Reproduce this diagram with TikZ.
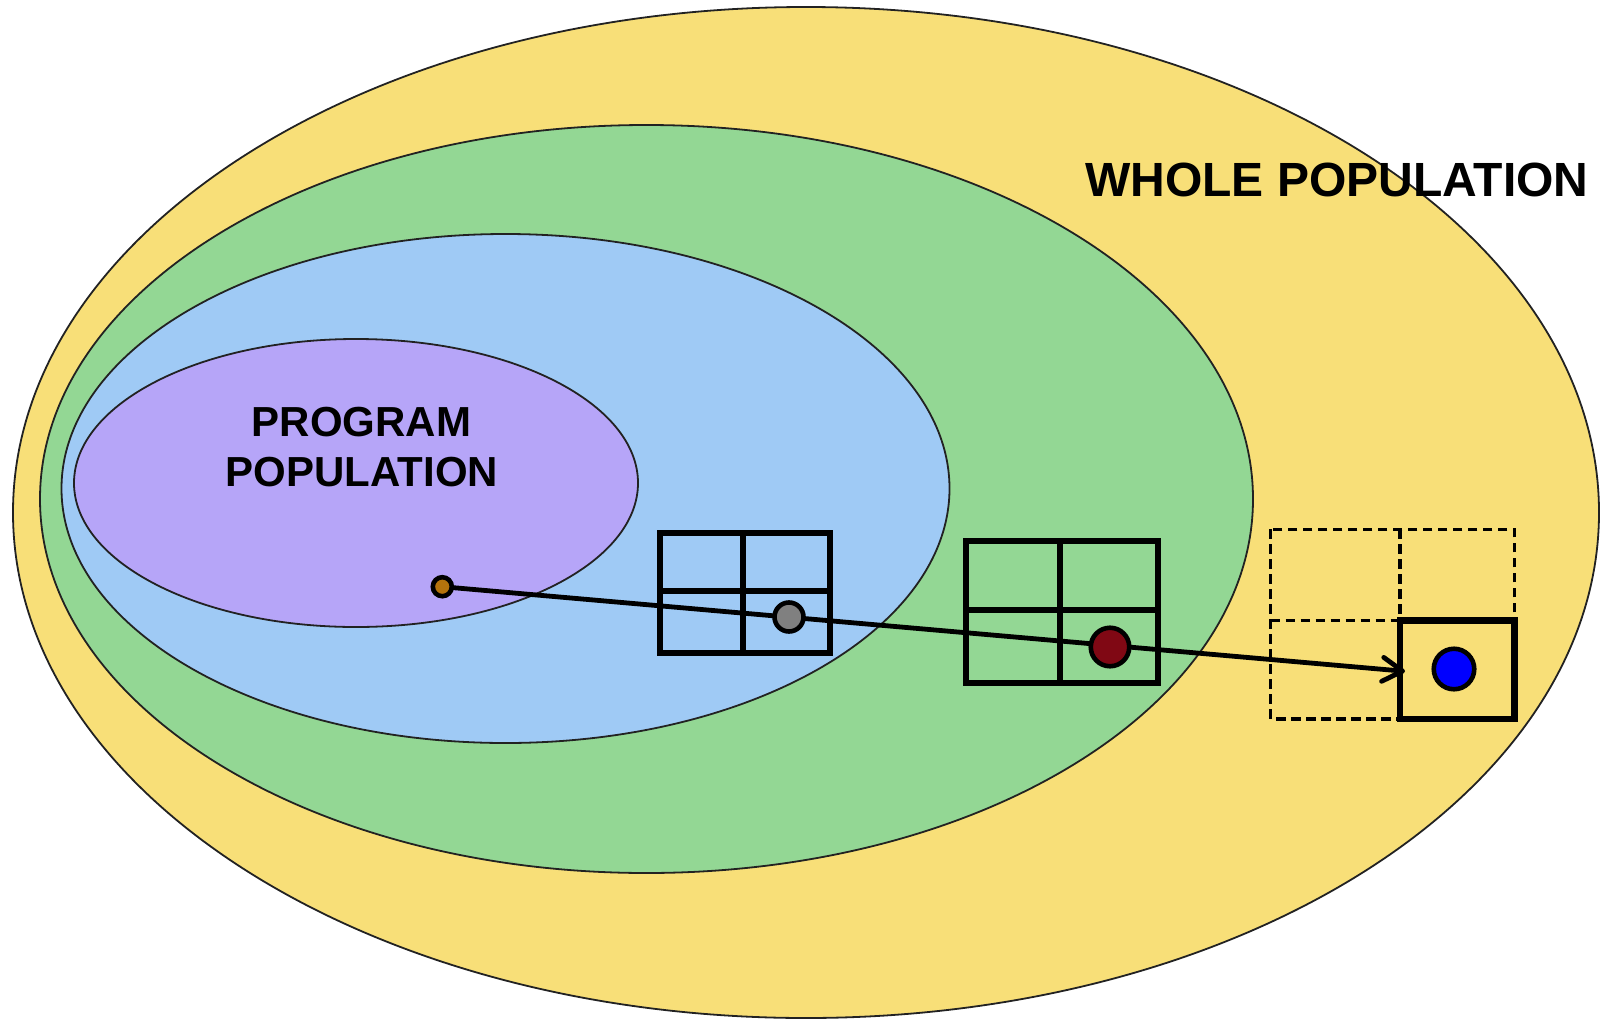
\documentclass[tikz,border=0pt]{standalone}
\usepackage{fontspec}
\setmainfont{Liberation Sans}
\usetikzlibrary{arrows.meta}
\definecolor{popyellow}{RGB}{248,223,120}
\definecolor{popgreen}{RGB}{147,215,148}
\definecolor{popblue}{RGB}{159,202,245}
\definecolor{poppurple}{RGB}{182,165,248}
\definecolor{rim}{RGB}{34,34,34}
\definecolor{dotbrown}{RGB}{180,115,12}
\definecolor{dotgray}{RGB}{128,128,128}
\definecolor{dotred}{RGB}{128,8,20}
\definecolor{dotblue}{RGB}{0,0,255}
\pgfdeclarelayer{back}
\pgfdeclarelayer{mid}
\pgfsetlayers{back,mid,main}
\begin{document}
\begin{tikzpicture}[x=1pt,y=-1pt,
  region/.style={draw=rim,line width=1.8pt},
  cellgrid/.style={draw=black,line width=6pt,line cap=rect},
  ghostgrid/.style={draw=black,line width=3.2pt,dash pattern=on 9.5pt off 5.5pt},
  unit/.style={draw=black,line width=6.5pt,line cap=rect},
  marker/.style={circle,draw=black,line width=4.6pt,inner sep=0pt},
  flow/.style={draw=black,line width=4.8pt,-{Straight Barb[length=20pt,width=24pt,line cap=round,line join=round]}},
  bigcaption/.style={font=\bfseries\fontsize{48}{54}\selectfont,inner sep=0pt},
  smallcaption/.style={font=\bfseries\fontsize{42}{50}\selectfont,inner sep=0pt}
]
\useasboundingbox (0,0) rectangle (1603,1020);

% nested populations
\begin{pgfonlayer}{back}
\fill[popyellow] (806,512.5) ellipse [x radius=793,y radius=505.5];
\draw[region] (806,512.5) ellipse [x radius=793,y radius=505.5];
\fill[popgreen] (646.5,499) ellipse [x radius=606.5,y radius=374];
\draw[region] (646.5,499) ellipse [x radius=606.5,y radius=374];
\fill[popblue] (505.5,488.5) ellipse [x radius=444,y radius=254.5];
\draw[region] (505.5,488.5) ellipse [x radius=444,y radius=254.5];
\fill[poppurple] (356,483) ellipse [x radius=282,y radius=144];
\draw[region] (356,483) ellipse [x radius=282,y radius=144];
\end{pgfonlayer}

% labels
\node[bigcaption,anchor=base west] (whole) at (1085,196.7) {WHOLE POPULATION};
\node[smallcaption,anchor=base] (progA) at (361.5,436.7) {PROGRAM};
\node[smallcaption,anchor=base] (progB) at (362,486.7) {POPULATION};

\begin{pgfonlayer}{mid}
% first grid
\draw[cellgrid] (660,533) rectangle (830,653);
\draw[cellgrid] (742.7,533) -- (742.7,653);
\draw[cellgrid] (660,591) -- (830,591);

% second grid
\draw[cellgrid] (966,541) rectangle (1158,683);
\draw[cellgrid] (1060,541) -- (1060,683);
\draw[cellgrid] (966,610) -- (1158,610);

% outlined grid with one selected cell
\draw[ghostgrid] (1270.7,529.3) rectangle (1514.3,719);
\draw[ghostgrid] (1400,529.3) -- (1400,719);
\draw[ghostgrid] (1270.7,620.7) -- (1514.3,620.7);
\draw[unit] (1400,620.7) rectangle (1514.3,719);
\end{pgfonlayer}

% individuals
\node[marker,fill=dotbrown,minimum size=19pt] (p1) at (442.3,586.7) {};
\node[marker,fill=dotgray,minimum size=29pt] (p2) at (789,617) {};
\node[marker,fill=dotred,minimum size=38.5pt] (p3) at (1110,647) {};
\node[marker,fill=dotblue,minimum size=40.5pt] (p4) at (1454,669) {};
\coordinate (tip) at (1405,671.3);

\begin{pgfonlayer}{mid}
\draw[flow] (p1.center) -- (tip);
\end{pgfonlayer}
\end{tikzpicture}
\end{document}
